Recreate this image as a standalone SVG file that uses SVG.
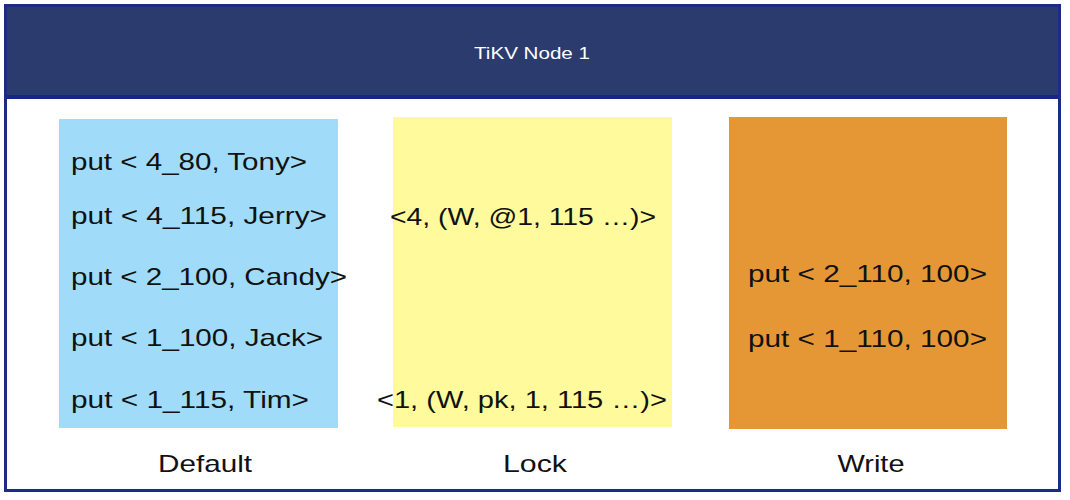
<svg xmlns="http://www.w3.org/2000/svg" width="1070" height="500" viewBox="0 0 1070 500">
<style>
.t{font-family:"Liberation Sans",Arial,sans-serif;font-size:24px;fill:#111}
.lbl{font-family:"Liberation Sans",Arial,sans-serif;font-size:24px;fill:#111;text-anchor:middle}
.title{font-family:"Liberation Sans",Arial,sans-serif;font-size:17px;fill:#ffffff;text-anchor:middle}
</style>
<rect x="0" y="0" width="1070" height="500" fill="#ffffff"/>
<g id="node1">
<rect x="5.5" y="5.5" width="1054" height="485" fill="#ffffff" stroke="#1c2a88" stroke-width="3"/>
<rect x="7" y="7" width="1051" height="89" fill="#2b3b6e"/>
<rect x="7" y="95" width="1051" height="4" fill="#16238a"/>
<text class="title" x="532" y="59" textLength="116" lengthAdjust="spacingAndGlyphs">TiKV Node 1</text>
</g>
<g id="default">
<rect x="59" y="119" width="279" height="309" fill="#a0dcfa"/>
<text class="t" x="71" y="170" textLength="236" lengthAdjust="spacingAndGlyphs">put &lt; 4_80, Tony&gt;</text>
<text class="t" x="71" y="224" textLength="256" lengthAdjust="spacingAndGlyphs">put &lt; 4_115, Jerry&gt;</text>
<text class="t" x="71" y="285" textLength="276" lengthAdjust="spacingAndGlyphs">put &lt; 2_100, Candy&gt;</text>
<text class="t" x="71" y="346" textLength="252" lengthAdjust="spacingAndGlyphs">put &lt; 1_100, Jack&gt;</text>
<text class="t" x="71" y="408" textLength="238" lengthAdjust="spacingAndGlyphs">put &lt; 1_115, Tim&gt;</text>
<text class="lbl" x="205" y="472" textLength="94" lengthAdjust="spacingAndGlyphs">Default</text>
</g>
<g id="lock">
<rect x="393" y="117" width="279" height="310" fill="#fffa9c"/>
<text class="t" x="390" y="225" textLength="266" lengthAdjust="spacingAndGlyphs">&lt;4, (W, @1, 115 …)&gt;</text>
<text class="t" x="377" y="408" textLength="290" lengthAdjust="spacingAndGlyphs">&lt;1, (W, pk, 1, 115 …)&gt;</text>
<text class="lbl" x="535" y="472" textLength="64" lengthAdjust="spacingAndGlyphs">Lock</text>
</g>
<g id="write">
<rect x="729" y="117" width="278" height="312" fill="#e59736"/>
<text class="t" x="748" y="282" textLength="239" lengthAdjust="spacingAndGlyphs">put &lt; 2_110, 100&gt;</text>
<text class="t" x="748" y="347" textLength="239" lengthAdjust="spacingAndGlyphs">put &lt; 1_110, 100&gt;</text>
<text class="lbl" x="871" y="472" textLength="67" lengthAdjust="spacingAndGlyphs">Write</text>
</g>
<g id="connectors"></g>
</svg>
